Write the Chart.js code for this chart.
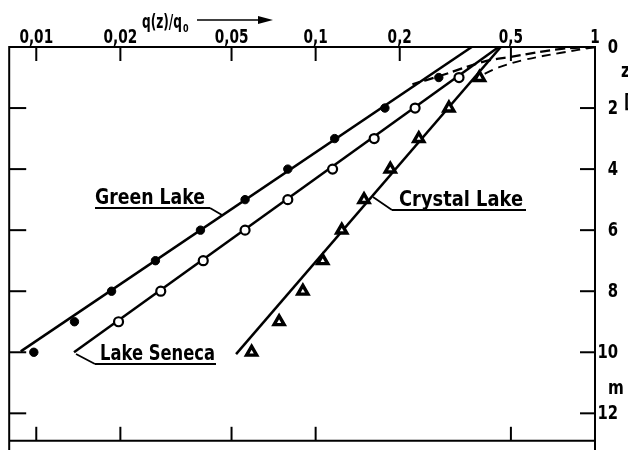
<!DOCTYPE html>
<html><head><meta charset="utf-8">
<script src="https://cdn.jsdelivr.net/npm/chart.js@4/dist/chart.umd.min.js"></script>
<style>html,body{margin:0;padding:0;background:#fff}canvas{display:block}</style>
</head><body>
<div style="width:628px;height:450px"><canvas id="c" width="628" height="450"></canvas></div>
<script>
// depth z in m, relative value q(z)/q0
const greenDepths = [1,2,3,4,5,6,7,8,9,10];
const greenLake   = [0.276,0.177,0.117,0.0795,0.0559,0.0387,0.0267,0.0186,0.0137,0.0098];
const senecaDepths = [1,2,3,4,5,6,7,8,9];
const lakeSeneca   = [0.326,0.227,0.162,0.115,0.0795,0.0559,0.0396,0.0279,0.0197];
const crystalDepths = [1,2,3,4,5,6,7,8,9,10];
const crystalLake   = [0.386,0.300,0.234,0.185,0.149,0.124,0.106,0.090,0.074,0.059];
// fitted straight lines
const greenFitQ = [0.362, 0.0088];   const greenFitZ = [0, 9.97];
const senecaFitQ = [0.452, 0.01365]; const senecaFitZ = [0, 10];
const crystalFitQ = [0.46, 0.0519];  const crystalFitZ = [0, 10.06];
// dashed near-surface curves
const dashUpperQ = [1, 0.76, 0.50, 0.40, 0.276, 0.222];
const dashUpperZ = [0, 0.06, 0.32, 0.48, 0.96, 1.22];
const dashLowerQ = [1, 0.757, 0.559, 0.452, 0.386];
const dashLowerZ = [0, 0.19, 0.42, 0.67, 0.96];
// tick labels
const topTicks = [0.01,0.02,0.05,0.1,0.2,0.5,1];
const topTickLabels = ['0,01','0,02','0,05','0,1','0,2','0,5','1'];
const bottomTicks = [0.01,0.02,0.05,0.1,0.5];
const depthTicks = [0,2,4,6,8,10,12];

const pts = (q, z) => q.map((v, i) => ({x: v, y: z[i]}));

function txt(c, s, x, y, align, sx) {
  c.save();
  c.translate(x, y); c.scale(sx, 1);
  c.textAlign = align;
  c.fillText(s, 0, 0);
  c.restore();
}
function txtFit(c, s, x, y, width) {
  const w = c.measureText(s).width;
  txt(c, s, x, y, 'left', width / w);
}

const axesPlugin = {
  id: 'axesPlugin',
  afterDraw(chart) {
    const c = chart.ctx, xs = chart.scales.x, ys = chart.scales.y, a = chart.chartArea;
    c.save();
    c.strokeStyle = '#000'; c.fillStyle = '#000'; c.lineWidth = 2; c.lineCap = 'butt';
    // frame
    c.beginPath();
    c.moveTo(a.left, 450); c.lineTo(a.left, a.top); c.lineTo(a.right, a.top); c.lineTo(a.right, 450);
    c.moveTo(a.left, a.bottom); c.lineTo(a.right, a.bottom);
    c.stroke();
    // top ticks and labels
    c.font = 'bold 19px "DejaVu Sans", sans-serif';
    c.textBaseline = 'alphabetic';
    topTicks.forEach((v, i) => {
      const x = xs.getPixelForValue(v);
      if (v < 1) { c.beginPath(); c.moveTo(x, a.top); c.lineTo(x, a.top + 14); c.stroke(); }
      txt(c, topTickLabels[i], x, a.top - 4, 'center', 0.72);
    });
    // bottom ticks
    bottomTicks.forEach(v => {
      const x = xs.getPixelForValue(v);
      c.beginPath(); c.moveTo(x, a.bottom); c.lineTo(x, a.bottom - 14); c.stroke();
    });
    // depth ticks
    c.textBaseline = 'middle';
    depthTicks.forEach(z => {
      const y = ys.getPixelForValue(z);
      if (z > 0) {
        c.beginPath(); c.moveTo(a.right - 15, y); c.lineTo(a.right, y); c.stroke();
        c.beginPath(); c.moveTo(a.left, y); c.lineTo(a.left + 17, y); c.stroke();
      }
      txt(c, String(z), 618, y + 1, 'right', 0.78);
    });
    txt(c, 'z', 621, 72, 'left', 0.8);
    txt(c, '[', 624, 103, 'left', 0.8);
    txt(c, 'm', 608, 389, 'left', 0.8);
    // title with arrow
    c.textBaseline = 'alphabetic';
    c.font = 'bold 19px "DejaVu Sans", sans-serif';
    txtFit(c, 'q(z)/q', 142, 28, 40);
    c.font = 'bold 10px "DejaVu Sans", sans-serif';
    txt(c, '0', 183, 32, 'left', 0.8);
    c.lineWidth = 1.5;
    c.beginPath(); c.moveTo(197, 20); c.lineTo(262, 20); c.stroke();
    c.beginPath(); c.moveTo(258, 16); c.lineTo(273, 20); c.lineTo(258, 24); c.closePath(); c.fill();
    // series labels with leader lines
    c.font = 'bold 21px "DejaVu Sans", sans-serif';
    c.lineWidth = 1.8;
    const label = (s, tx, ty, tw, ux0, ux1, uy, lx, ly, lead0) => {
      txtFit(c, s, tx, ty, tw);
      c.beginPath(); c.moveTo(ux0, uy); c.lineTo(ux1, uy);
      c.moveTo(lead0, uy); c.lineTo(lx, ly); c.stroke();
    };
    label('Green Lake', 95, 204, 110, 95, 210, 208, 222, 215, 210);
    label('Lake Seneca', 100, 360, 115, 95, 216, 364, 76, 354, 95);
    label('Crystal Lake', 399, 206, 124, 392, 526, 210, 373, 197, 392);
    c.restore();
  }
};

new Chart(document.getElementById('c'), {
  type: 'scatter',
  data: { datasets: [
    { data: pts(greenLake, greenDepths), pointStyle: 'circle', pointRadius: 4.2, backgroundColor: '#000', borderColor: '#000', borderWidth: 1 },
    { data: pts(lakeSeneca, senecaDepths), pointStyle: 'circle', pointRadius: 4.5, backgroundColor: '#fff', borderColor: '#000', borderWidth: 2.2 },
    { data: pts(crystalLake, crystalDepths), pointStyle: 'triangle', pointRadius: 5.8, backgroundColor: '#fff', borderColor: '#000', borderWidth: 3.4 },
    { data: pts(greenFitQ, greenFitZ), showLine: true, pointRadius: 0, borderColor: '#000', borderWidth: 2.5 },
    { data: pts(senecaFitQ, senecaFitZ), showLine: true, pointRadius: 0, borderColor: '#000', borderWidth: 2.5 },
    { data: pts(crystalFitQ, crystalFitZ), showLine: true, pointRadius: 0, borderColor: '#000', borderWidth: 2.5 },
    { data: pts(dashUpperQ, dashUpperZ), showLine: true, pointRadius: 0, borderColor: '#000', borderWidth: 2.3, borderDash: [10, 5], tension: 0.4 },
    { data: pts(dashLowerQ, dashLowerZ), showLine: true, pointRadius: 0, borderColor: '#000', borderWidth: 1.9, borderDash: [9, 6], tension: 0.4 }
  ]},
  options: {
    responsive: false, animation: false,
    layout: { padding: { left: 5, right: 33, top: 47, bottom: 1 } },
    plugins: { legend: { display: false }, tooltip: { enabled: false } },
    scales: {
      x: { type: 'logarithmic', min: 0.008, max: 1.0, display: false },
      y: { type: 'linear', reverse: true, min: 0, max: 12.9, display: false }
    }
  },
  plugins: [axesPlugin]
});
</script>
</body></html>
